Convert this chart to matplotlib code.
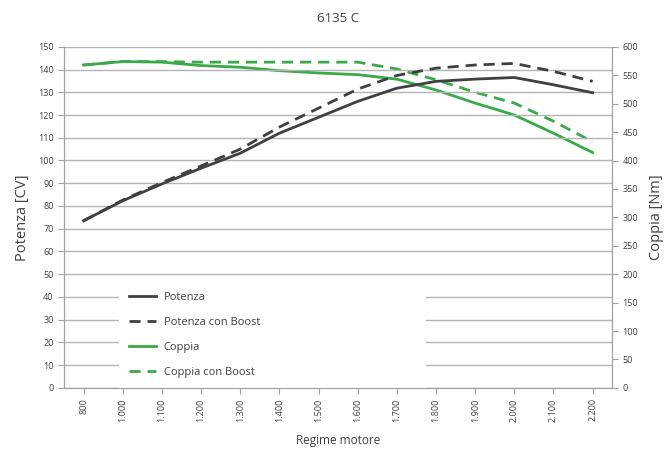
import matplotlib
matplotlib.use("Agg")
import matplotlib.pyplot as plt
import numpy as np

plt.rcParams['font.family'] = ['Open Sans', 'DejaVu Sans']

rpm = ['800', '1.000', '1.100', '1.200', '1.300', '1.400', '1.500', '1.600',
       '1.700', '1.800', '1.900', '2.000', '2.100', '2.200']
potenza = [73.5, 82.3, 89.7, 96.6, 103.2, 112, 119, 126, 131.8, 134.8, 135.8, 136.5, 133.3, 129.8]
potenza_boost = [73.5, 82.6, 90.3, 97.6, 105, 114.7, 123, 131.4, 137.4, 140.6, 142, 142.7, 139.2, 134.8]
coppia = [568, 574, 573, 567, 564, 558, 554, 551, 543, 524, 501, 480, 448, 414]
coppia_boost = [568, 574, 574, 573, 573, 573, 573, 573, 561, 542, 520, 501, 469, 433]

dark = '#404040'
green = '#3aaa48'

x = np.arange(len(rpm))

fig = plt.figure(figsize=(6.71, 4.5), dpi=100)
ax = fig.add_axes([0.0954, 0.138, 0.817, 0.758])
ax2 = ax.twinx()

ax.set_zorder(ax2.get_zorder() + 1)
ax.patch.set_visible(False)

ax.yaxis.grid(True, color='#b4b4b4', linewidth=1.0)
ax.set_axisbelow(True)

l1, = ax.plot(x, potenza, color=dark, lw=2, label='Potenza')
l2, = ax.plot(x, potenza_boost, color=dark, lw=2, ls=(0, (4, 2.5)), label='Potenza con Boost')
l3, = ax2.plot(x, coppia, color=green, lw=2, label='Coppia')
l4, = ax2.plot(x, coppia_boost, color=green, lw=2, ls=(0, (4, 2.5)), label='Coppia con Boost')

ax.set_xlim(-0.5, 13.5)
ax.set_ylim(0, 150)
ax.set_yticks(np.arange(0, 151, 10))
ax2.set_ylim(0, 600)
ax2.set_yticks(np.arange(0, 601, 50))
ax.set_xticks(x)
ax.set_xticklabels(rpm, rotation=90, fontsize=6.5, color='#404040')

for a in (ax, ax2):
    a.tick_params(axis='both', labelsize=6.5, colors='#404040', length=4, width=0.8)
    for s in a.spines.values():
        s.set_color('#a0a0a0')
    a.spines['top'].set_visible(False)
ax.tick_params(axis='x', colors='#a0a0a0', labelcolor='#404040')
ax.tick_params(axis='y', colors='#a0a0a0', labelcolor='#404040')
ax2.tick_params(axis='y', colors='#a0a0a0', labelcolor='#404040')
ax.spines['bottom'].set_zorder(6)

ax.set_ylabel('Potenza [CV]', fontsize=10.5, color='#404040', labelpad=6)
ax2.set_ylabel('Coppia [Nm]', fontsize=10.5, color='#404040', labelpad=8)
ax.set_xlabel('Regime motore', fontsize=8.5, color='#404040', labelpad=9)
ax.set_title('6135 C', fontsize=9.5, color='#404040', pad=18)

leg = ax.legend(handles=[l1, l2, l3, l4], loc='lower left',
                bbox_to_anchor=(0.1, 0.0, 0.56, 0.3), mode='expand',
                frameon=True, facecolor='white', edgecolor='none', framealpha=1,
                fontsize=8, labelspacing=1.25, handlelength=2.45, handletextpad=0.7,
                borderpad=0.9, borderaxespad=0, fancybox=False)
for t in leg.get_texts():
    t.set_color('#404040')

fig.savefig('out.png', dpi=100)
